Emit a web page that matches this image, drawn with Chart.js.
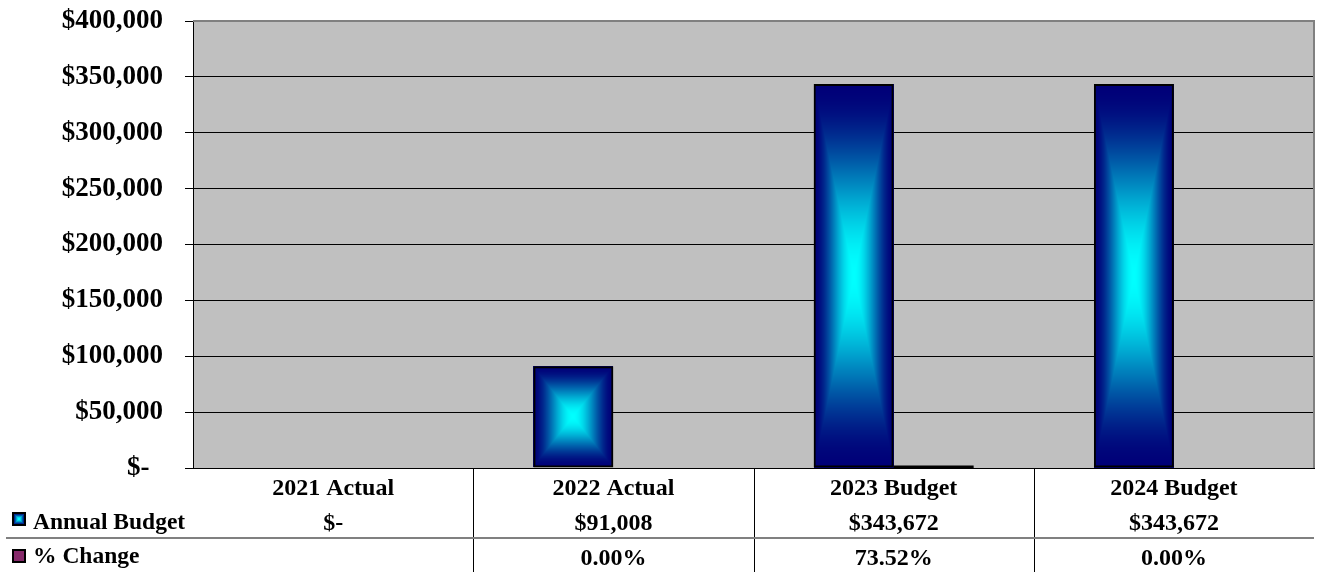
<!DOCTYPE html>
<html>
<head>
<meta charset="utf-8">
<title>Annual Budget</title>
<script src="https://cdn.jsdelivr.net/npm/chart.js@4.4.0/dist/chart.umd.min.js"></script>
<style>
  html, body { margin: 0; padding: 0; background: #fff; }
  #wrap { width: 1322px; height: 572px; }
</style>
</head>
<body>
<div id="wrap"><canvas id="budgetChart" width="1322" height="572"></canvas></div>
<script>
var categories = ["2021 Actual", "2022 Actual", "2023 Budget", "2024 Budget"];
var annualBudget = [0, 91008, 343672, 343672];
var pctChange = [null, 0.0, 0.7352, 0.0];   // fractions, shown as percent
var yTicks = [0, 50000, 100000, 150000, 200000, 250000, 300000, 350000, 400000];
var seriesNames = ["Annual Budget", "% Change"];

var SERIF = "'Liberation Serif', 'Times New Roman', serif";
var NAVY = [0, 0, 120];
var CYAN = [0, 255, 255];
var PLUM = "#862a6a";

function money(v) {
    if (v === 0) return "$-";
    return "$" + v.toLocaleString("en-US");
}

function pct(v) {
    if (v === null || v === undefined) return "";
    return (v * 100).toFixed(2) + "%";
}

// rectangular "from center" fill: navy at the edges, cyan in the middle
function paintCenterGradient(ctx, left, top, w, h) {
    w = Math.round(w);
    h = Math.round(h);
    if (w < 1 || h < 1) return;
    var off = document.createElement("canvas");
    off.width = w;
    off.height = h;
    var octx = off.getContext("2d");
    var img = octx.createImageData(w, h);
    var hw = w / 2, hh = h / 2;
    for (var y = 0; y < h; y++) {
        for (var x = 0; x < w; x++) {
            var t = Math.max(Math.abs(x + 0.5 - hw) / hw, Math.abs(y + 0.5 - hh) / hh);
            var u = 1 - Math.min(t, 1);
            var f = u * u * (3 - 2 * u);   // smoothstep, keeps the rim dark
            var i = (y * w + x) * 4;
            for (var c = 0; c < 3; c++) {
                img.data[i + c] = Math.round(NAVY[c] + (CYAN[c] - NAVY[c]) * f);
            }
            img.data[i + 3] = 255;
        }
    }
    octx.putImageData(img, 0, 0);
    ctx.drawImage(off, Math.round(left), Math.round(top));
}

var budgetTable = {
    id: "budgetTable",
    beforeDraw: function(chart) {
        var a = chart.chartArea, ctx = chart.ctx;
        ctx.save();
        ctx.fillStyle = "#c0c0c0";
        ctx.fillRect(a.left, a.top, a.right - a.left, a.bottom - a.top);
        ctx.restore();
    },
    beforeDatasetDraw: function(chart, args) {
        if (args.index !== 0) return;
        var ctx = chart.ctx;
        chart.getDatasetMeta(0).data.forEach(function(el) {
            var p = el.getProps(["x", "y", "base", "width"], true);
            var top = Math.min(p.y, p.base);
            var h = Math.abs(p.base - p.y);
            if (h < 1) return;
            paintCenterGradient(ctx, p.x - p.width / 2, top, p.width, h);
        });
    },
    afterDatasetsDraw: function(chart) {
        var ctx = chart.ctx;
        // near-zero % change bars still show their outline on the axis
        ctx.save();
        ctx.fillStyle = "#000";
        chart.getDatasetMeta(1).data.forEach(function(el, i) {
            if (!pctChange[i]) return;
            var p = el.getProps(["x", "base", "width"], true);
            ctx.fillRect(p.x - p.width / 2, p.base - 2, p.width, 3);
        });
        ctx.restore();
    },
    afterDraw: function(chart) {
        var a = chart.chartArea, ctx = chart.ctx, xs = chart.scales.x;
        ctx.save();

        // plot frame, top and right
        ctx.strokeStyle = "#808080";
        ctx.lineWidth = 2;
        ctx.beginPath();
        ctx.moveTo(a.left, a.top);
        ctx.lineTo(a.right, a.top);
        ctx.lineTo(a.right, a.bottom);
        ctx.stroke();

        // data table grid
        ctx.strokeStyle = "#000";
        ctx.lineWidth = 1;
        for (var i = 0; i < categories.length - 1; i++) {
            var bx = Math.round((xs.getPixelForValue(i) + xs.getPixelForValue(i + 1)) / 2) + 0.5;
            ctx.beginPath();
            ctx.moveTo(bx, a.bottom);
            ctx.lineTo(bx, chart.height);
            ctx.stroke();
        }
        ctx.strokeStyle = "#808080";
        ctx.lineWidth = 2;
        ctx.beginPath();
        ctx.moveTo(6, a.bottom + 70);
        ctx.lineTo(a.right, a.bottom + 70);
        ctx.stroke();

        // row headers with legend keys
        var rows = [a.bottom + 54, a.bottom + 88];
        var keyTops = [a.bottom + 45, a.bottom + 82];
        ctx.font = "bold 23.5px " + SERIF;
        ctx.textAlign = "left";
        ctx.textBaseline = "middle";
        rows.forEach(function(ry, r) {
            var kx = 13, ky = keyTops[r];
            if (r === 0) {
                paintCenterGradient(ctx, kx, ky, 12, 12);
            } else {
                ctx.fillStyle = PLUM;
                ctx.fillRect(kx, ky, 12, 12);
            }
            ctx.strokeStyle = "#000";
            ctx.lineWidth = 2;
            ctx.strokeRect(kx, ky, 12, 12);
            ctx.fillStyle = "#000";
            ctx.fillText(seriesNames[r], 33, ry + 1);
        });
        ctx.restore();
    }
};

var ctx = document.getElementById("budgetChart").getContext("2d");

var budgetChart = new Chart(ctx, {
    type: "bar",
    data: {
        labels: categories,
        datasets: [{
            label: seriesNames[0],
            data: annualBudget,
            backgroundColor: "rgba(0,0,0,0)",
            borderColor: "#000",
            borderWidth: 2,
            borderSkipped: false
        }, {
            label: seriesNames[1],
            data: pctChange,
            backgroundColor: PLUM,
            borderColor: "#000",
            borderWidth: 2,
            borderSkipped: false
        }]
    },
    options: {
        responsive: false,
        animation: false,
        events: [],
        layout: { padding: { top: 21, right: 8, left: 0, bottom: 0 } },
        datasets: {
            bar: { categoryPercentage: 0.571, barPercentage: 1.0 }
        },
        plugins: {
            legend: { display: false },
            tooltip: { enabled: false }
        },
        scales: {
            x: {
                grid: { display: false },
                border: { display: true, color: "#000", width: 1 },
                ticks: {
                    color: "#000",
                    autoSkip: false,
                    maxRotation: 0,
                    padding: -4,
                    font: { family: SERIF, size: 24, weight: "bold", lineHeight: 1.44 },
                    callback: function(value, index) {
                        return [categories[index], money(annualBudget[index]), pct(pctChange[index])];
                    }
                },
                afterFit: function(scale) { scale.height = 104; }
            },
            y: {
                min: 0,
                max: 400000,
                afterBuildTicks: function(scale) {
                    scale.ticks = yTicks.map(function(v) { return { value: v }; });
                },
                grid: { color: "#000", lineWidth: 1, tickLength: 8 },
                border: { display: true, color: "#000", width: 1 },
                ticks: {
                    color: "#000",
                    padding: 22,
                    font: { family: SERIF, size: 27, weight: "bold" },
                    callback: function(value) {
                        return value === 0 ? "$-  " : money(value);
                    }
                },
                afterFit: function(scale) {
                    scale.width = 193;
                    scale.paddingTop = 0;
                    scale.paddingBottom = 0;
                }
            }
        }
    },
    plugins: [budgetTable]
});
</script>
</body>
</html>
